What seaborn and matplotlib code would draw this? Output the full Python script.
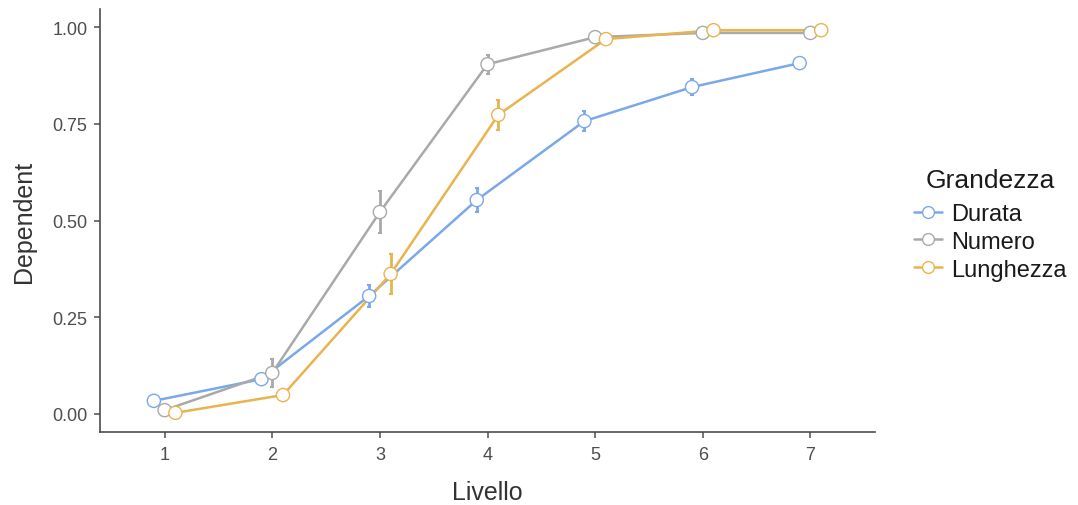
import numpy as np
import pandas as pd
import matplotlib
matplotlib.use("Agg")
import matplotlib.pyplot as plt
from matplotlib.lines import Line2D
import seaborn as sns

livello = [1, 2, 3, 4, 5, 6, 7]
grandezza = ["Durata", "Numero", "Lunghezza"]

durata = [0.034, 0.090, 0.305, 0.553, 0.757, 0.845, 0.907]
numero = [0.010, 0.106, 0.522, 0.904, 0.974, 0.985, 0.985]
lunghezza = [0.003, 0.049, 0.362, 0.773, 0.969, 0.992, 0.992]

durata_err = [0.006, 0.010, 0.029, 0.030, 0.025, 0.021, 0.006]
numero_err = [0.004, 0.035, 0.055, 0.025, 0.006, 0.004, 0.004]
lunghezza_err = [0.003, 0.015, 0.052, 0.039, 0.007, 0.004, 0.004]

colors = {"Durata": "#7BA8EA", "Numero": "#A9A9A9", "Lunghezza": "#E9B34F"}
dodge = {"Durata": -0.1, "Numero": 0.0, "Lunghezza": 0.1}

means = {"Durata": durata, "Numero": numero, "Lunghezza": lunghezza}
errs = {"Durata": durata_err, "Numero": numero_err, "Lunghezza": lunghezza_err}

rows = []
for g in grandezza:
    for lv, m, e in zip(livello, means[g], errs[g]):
        rows.append({"Livello": lv, "pos": lv + dodge[g], "Dependent": m,
                     "err": e, "Grandezza": g})
df = pd.DataFrame(rows)

sns.set_theme(style="ticks")
plt.rcParams["font.family"] = ["Liberation Sans", "DejaVu Sans"]

fig = plt.figure(figsize=(10.78, 5.06), dpi=100)
ax = fig.add_axes([0.0928, 0.1443, 0.8117 - 0.0928, 0.980 - 0.1443])

# connecting lines
sns.lineplot(data=df, x="pos", y="Dependent", hue="Grandezza",
             hue_order=grandezza, palette=colors, linewidth=1.8,
             errorbar=None, legend=False, ax=ax, zorder=2)

# error bars
for g in grandezza:
    sub = df[df["Grandezza"] == g]
    ax.errorbar(sub["pos"], sub["Dependent"], yerr=sub["err"], fmt="none",
                ecolor=colors[g], elinewidth=2.0, capsize=1.5,
                capthick=1.5, zorder=3)

# hollow points
sns.scatterplot(data=df, x="pos", y="Dependent", hue="Grandezza",
                hue_order=grandezza, palette=colors, facecolor="white",
                s=90, linewidth=1.0, legend=False, ax=ax, zorder=4)
pts = ax.collections[-1]
pts.set_facecolor("white")
pts.set_edgecolor([colors[g] for g in df["Grandezza"]])

ax.set_xlim(0.4, 7.6)
ax.set_ylim(-0.0465, 1.0465)
ax.set_xticks(livello)
ax.set_xticklabels([str(v) for v in livello])
ax.set_yticks([0.0, 0.25, 0.5, 0.75, 1.0])
ax.set_yticklabels(["0.00", "0.25", "0.50", "0.75", "1.00"])
ax.tick_params(axis="both", labelsize=13, colors="#4D4D4D", length=4,
               width=1.1, labelcolor="#4D4D4D", pad=5)
ax.tick_params(axis="x", pad=6)
ax.set_xlabel("Livello", fontsize=18, color="#333333", labelpad=12)
ax.set_ylabel("Dependent", fontsize=18, color="#333333", labelpad=12)
for side in ["top", "right"]:
    ax.spines[side].set_visible(False)
for side in ["left", "bottom"]:
    ax.spines[side].set_color("#4D4D4D")
    ax.spines[side].set_linewidth(1.2)

handles = [Line2D([0], [0], color=colors[g], linewidth=1.8, marker="o",
                  markersize=8.5, markerfacecolor="white",
                  markeredgecolor=colors[g], markeredgewidth=1.0)
           for g in grandezza]
leg = fig.legend(handles, grandezza, title="Grandezza", loc="center left",
                 bbox_to_anchor=(0.848, 0.555), frameon=False, fontsize=17,
                 title_fontsize=19, handlelength=1.2, handletextpad=0.35,
                 labelspacing=0.25, borderaxespad=0, borderpad=0)
leg._legend_box.align = "center"
leg._legend_box.sep = 8
for t in leg.get_texts():
    t.set_color("#1A1A1A")
leg.get_title().set_color("#1A1A1A")

fig.savefig("out.png", dpi=100)
